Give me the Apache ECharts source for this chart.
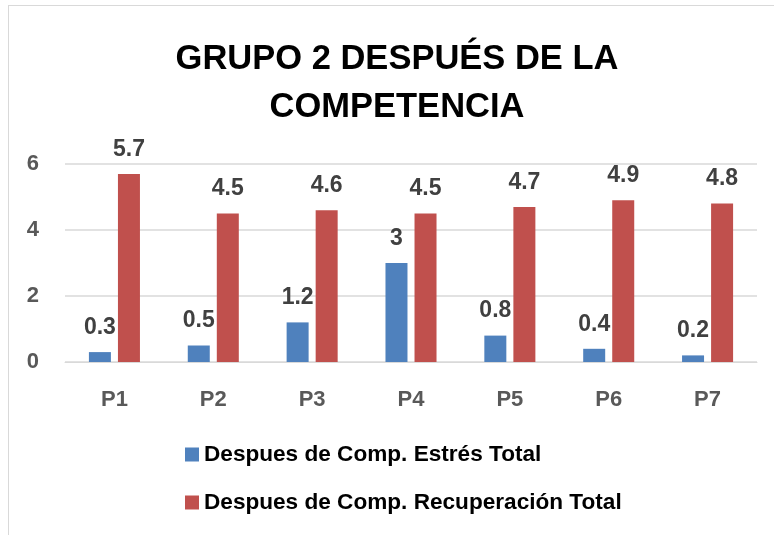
<!DOCTYPE html>
<html><head><meta charset="utf-8">
<script src="https://cdn.jsdelivr.net/npm/echarts@6/dist/echarts.min.js"></script>
<style>html,body{margin:0;padding:0;background:#fff}#c{width:774px;height:535px}
#frame{position:absolute;left:8px;top:5px;width:780px;height:540px;border:1px solid #d9d9d9;box-sizing:border-box;pointer-events:none}</style>
</head><body><div id="c"></div><div id="frame"></div>
<script>
const categories = ['P1','P2','P3','P4','P5','P6','P7'];
const estres = [0.3, 0.5, 1.2, 3, 0.8, 0.4, 0.2];
const recuperacion = [5.7, 4.5, 4.6, 4.5, 4.7, 4.9, 4.8];
const seriesNames = ['Despues de Comp. Estrés Total', 'Despues de Comp. Recuperación Total'];
const yTicks = {min: 0, max: 6, interval: 2};

const font = '"Liberation Sans", sans-serif';
const chart = echarts.init(document.getElementById('c'));
const labelStyle = {show: true, position: 'top', distance: 13, fontFamily: font, fontWeight: 'bold', fontSize: 23, color: '#404040'};
chart.setOption({
  animation: false,
  title: {text: 'GRUPO 2 DESPUÉS DE LA\nCOMPETENCIA', left: 392, textAlign: 'center', top: 30,
    textStyle: {fontFamily: font, fontWeight: 'bold', fontSize: 34.5, lineHeight: 48, color: '#000'}},
  grid: {left: 65, right: 17, top: 164, bottom: 173, containLabel: false},
  legend: {orient: 'vertical', left: 180, top: 438, itemGap: 25, itemWidth: 14, itemHeight: 14, icon: 'rect',
    textStyle: {fontFamily: font, fontWeight: 'bold', fontSize: 22.6, color: '#000'}},
  xAxis: {type: 'category', data: categories, axisTick: {show: false},
    axisLine: {lineStyle: {color: '#d9d9d9'}},
    axisLabel: {fontFamily: font, fontWeight: 'bold', fontSize: 22, color: '#595959', margin: 27}},
  yAxis: {type: 'value', min: yTicks.min, max: yTicks.max, interval: yTicks.interval,
    splitLine: {lineStyle: {color: '#d9d9d9', width: 1.5}},
    axisLabel: {fontFamily: font, fontWeight: 'bold', fontSize: 22, color: '#595959', margin: 26}},
  series: [
    {name: seriesNames[0], type: 'bar', data: estres, barWidth: 22, barGap: '32%', itemStyle: {color: '#4f81bd'}, label: labelStyle},
    {name: seriesNames[1], type: 'bar', data: recuperacion, barWidth: 22, itemStyle: {color: '#c0504d'}, label: labelStyle}
  ]
});
</script></body></html>
